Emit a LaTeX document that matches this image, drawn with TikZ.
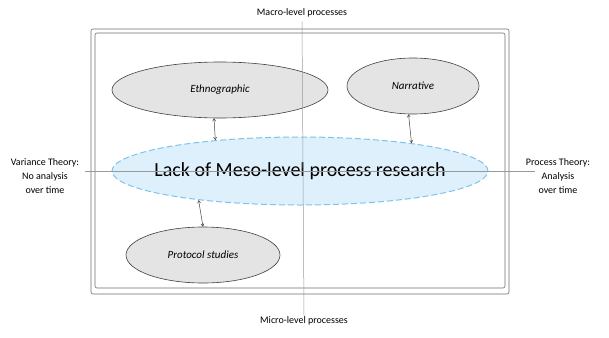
\documentclass[tikz,border=0pt]{standalone}
\usepackage{fontspec}
\setmainfont{Carlito}
\usepackage{xcolor}
\usetikzlibrary{shapes.geometric, arrows.meta}

\definecolor{frameGray}{HTML}{6E6E6E}
\definecolor{ovalFill}{HTML}{E4E4E4}
\definecolor{mesoFill}{HTML}{DDF0FB}
\definecolor{mesoLine}{HTML}{7FC3EA}

\begin{document}
\begin{tikzpicture}[
        x=1pt, y=-1pt,
        method/.style={ellipse, draw=black!75, line width=0.6pt, fill=ovalFill,
            inner sep=0pt, font=\fontsize{11}{13}\selectfont\itshape},
        meso/.style={ellipse, draw=mesoLine, line width=1pt, fill=mesoFill,
            dash pattern=on 6pt off 3pt, inner xsep=-25pt, inner ysep=0pt,
            font=\fontsize{20}{24}\selectfont},
        lbl/.style={font=\fontsize{10}{14}\selectfont, align=center, inner sep=1pt},
        axis/.style={draw=black!40, line width=0.5pt},
        frame/.style={draw=frameGray, line width=0.6pt, rounded corners=2pt},
        link/.style={draw=black!75, line width=0.5pt,
            {Straight Barb[length=2.5pt, width=3pt]}-{Straight Barb[length=2.5pt, width=3pt]}}
    ]
    \useasboundingbox (0,0) rectangle (609,337);

    % double frame
    \draw [frame] (91,29) rectangle (509,294);
    \draw [frame] (95,33) rectangle (505,288);

    \node [method, minimum width=216pt, minimum height=56pt] (ethno) at (220,90) {Ethnographic};
    \node [method, minimum width=132pt, minimum height=56pt] (narrative) at (413,86) {Narrative};
    \node [method, minimum width=154pt, minimum height=56pt] (protocol) at (203,255) {Protocol studies};
    \node [meso, minimum width=376pt, minimum height=68pt] (mesogap) at (300,171) {Lack of Meso-level process research};

    \node [lbl] (macro) at (302,13) {Macro-level processes};
    \node [lbl] (micro) at (304,321) {Micro-level processes};
    \node [lbl] (variance) at (45,176) {Variance Theory:\\ No analysis\\ over time};
    \node [lbl] (process) at (558,176) {Process Theory:\\ Analysis\\ over time};

    \coordinate (axisleft) at (85,171);
    \coordinate (axisright) at (535,171);

    % axes on top
    \draw [axis] (macro.south) ++(0,3) -- (micro.north);
    \draw [axis] (axisleft) -- (axisright);

    \draw [link] (ethno.258) -- (mesogap.160.6);
    \draw [link] (narrative.261.9) -- (mesogap.14.3);
    \draw [link] (protocol.north) -- (mesogap.196.7);
\end{tikzpicture}
\end{document}
